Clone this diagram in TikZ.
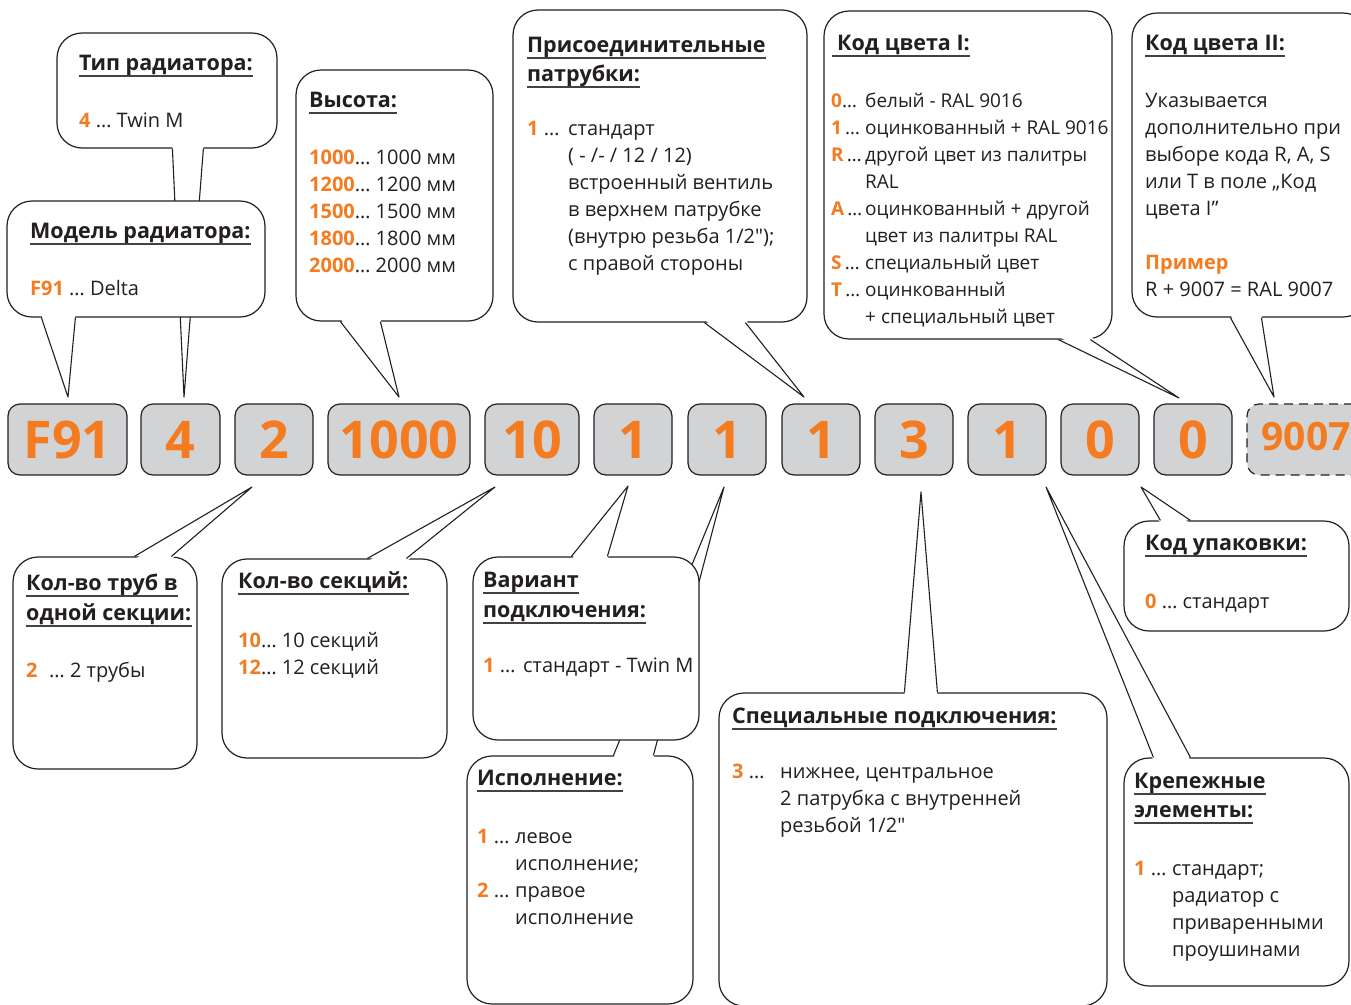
\documentclass[tikz,border=0pt]{standalone}
\usepackage{fontspec}
\setmainfont{Open Sans}[Ligatures=TeXOff]
\usetikzlibrary{calc}
\definecolor{orng}{HTML}{F47B20}
\definecolor{ink}{HTML}{231F20}
\definecolor{boxgray}{HTML}{D1D3D4}
\tikzset{
  bubble/.style={draw=ink, line width=1.2pt, fill=white, rounded corners=25pt, rectangle, inner sep=0pt},
  tailside/.style={draw=ink, line width=1.1pt, line join=round},
  codebox/.style={draw=ink, line width=1.2pt, fill=boxgray, rounded corners=12pt, rectangle, inner sep=0pt,
    minimum height=71pt, text=orng, font=\fontsize{52}{52}\selectfont\bfseries},
  ttl/.style={anchor=base west, inner sep=0pt, text=ink, font=\fontsize{21.5}{23}\selectfont\bfseries},
  body/.style={anchor=base west, inner sep=0pt, text=ink, font=\fontsize{20}{27}\selectfont},
  ul/.style={draw=ink!85, line width=1.2pt},
}
\newcommand\og[1]{{\bfseries\color{orng}#1}}
\newcommand\bub[5]{\node[bubble, minimum width={(#4)-(#2)}, minimum height={(#5)-(#3)}] (#1) at ({((#2)+(#4))/2},{((#3)+(#5))/2}) {};}
\newcommand\tailS[4]{%
  \fill[white] ([xshift=#2,yshift=3]#1.south west) -- (#4) -- ([xshift=#3,yshift=3]#1.south west) -- cycle;
  \draw[tailside] ([xshift=#2]#1.south west) -- (#4) -- ([xshift=#3]#1.south west);}
\newcommand\tailN[4]{%
  \fill[white] ([xshift=#2,yshift=-3]#1.north west) -- (#4) -- ([xshift=#3,yshift=-3]#1.north west) -- cycle;
  \draw[tailside] ([xshift=#2]#1.north west) -- (#4) -- ([xshift=#3]#1.north west);}
\newcommand\ttl[3]{\node[ttl] (#1) at (#2) {#3};
  \draw[ul] ([yshift=-6]#1.base west) -- ([yshift=-6]#1.base east);}
\newcommand\lab[2]{\makebox[#1][l]{#2}}
\begin{document}
\begin{tikzpicture}[x=1pt,y=-1pt]
\useasboundingbox (0,0) rectangle (1351,1004);
\clip (0,0) rectangle (1351,1004);

% ---------- code boxes ----------
\node[codebox, minimum width=119] (cF)  at (67.5,439.5)  {F91};
\node[codebox, minimum width=79]  (c4)  at (180.5,439.5) {4};
\node[codebox, minimum width=78]  (c2)  at (274,439.5)   {2};
\node[codebox, minimum width=142] (cH)  at (399,439.5)   {1000};
\node[codebox, minimum width=94]  (cS)  at (532,439.5)   {10};
\node[codebox, minimum width=78]  (cV)  at (633,439.5)   {1};
\node[codebox, minimum width=78]  (cI)  at (727,439.5)   {1};
\node[codebox, minimum width=78]  (cP)  at (821,439.5)   {1};
\node[codebox, minimum width=78]  (cSp) at (914,439.5)   {3};
\node[codebox, minimum width=78]  (cK)  at (1007,439.5)  {1};
\node[codebox, minimum width=78]  (cC1) at (1100,439.5)  {0};
\node[codebox, minimum width=78]  (cU)  at (1193,439.5)  {0};
\node[codebox, minimum width=118, dash pattern=on 9pt off 6pt, font=\fontsize{39}{39}\selectfont\bfseries] (cC2) at (1306,439.5) {\raisebox{6pt}{9007}};

% ---------- tail tips ----------
\coordinate (tT)  at (184,397);
\coordinate (tM)  at (68,397);
\coordinate (tH)  at (399,397);
\coordinate (tP)  at (804,397);
\coordinate (tC1) at (1179,398);
\coordinate (tC2) at (1274,397);
\coordinate (tR)  at (252,487);
\coordinate (tS)  at (495,487);
\coordinate (tV)  at (628,486);
\coordinate (tI)  at (724,487);
\coordinate (tSp) at (921,492);
\coordinate (tU)  at (1141,487);
\coordinate (tK)  at (1046,487);

% ---------- top bubbles ----------
\bub{bT}{57}{33}{277}{148}
\tailS{bT}{116}{147}{tT}
\bub{bM}{7}{201}{265}{317}
\tailS{bM}{35}{69}{tM}
\bub{bH}{296}{70}{493}{321}
\tailS{bH}{45}{85}{tH}
\bub{bP}{513}{10}{807}{322}
\tailS{bP}{192}{233}{tP}
\bub{bC1}{824}{11}{1112}{339}
\tailS{bC1}{235}{267}{tC1}
\bub{bC2}{1132}{13}{1368}{317}
\tailS{bC2}{99}{130}{tC2}

% ---------- bottom bubbles ----------
\bub{bR}{13}{557}{197}{769}
\tailN{bR}{122}{159}{tR}
\bub{bS}{222}{559}{447}{758}
\tailN{bS}{146}{185}{tS}
\bub{bI}{467}{756}{693}{1004}
\tailN{bI}{147}{187}{tI}
\bub{bV}{473}{557}{699}{740}
\tailN{bV}{99}{135}{tV}
\bub{bSp}{719}{693}{1107}{1006}
\tailN{bSp}{186}{219}{tSp}
\bub{bU}{1124}{521}{1349}{631}
\tailN{bU}{37}{67}{tU}
\bub{bK}{1124}{758}{1349}{986}
\tailN{bK}{30}{67}{tK}

% ---------- texts ----------
\ttl{hT}{79,70}{Тип радиатора:}
\node[body] (xT) at (79,127) {\og{4} … Twin M};

\ttl{hM}{30,238}{Модель радиатора:}
\node[body] (xM) at (30,295) {\og{F91} … Delta};

\ttl{hH}{309,107}{Высота:}
\node[body] (xH) at (309,164) {\begin{tabular}[t]{@{}l@{}}
\og{1000}… 1000 мм\\ \og{1200}… 1200 мм\\ \og{1500}… 1500 мм\\ \og{1800}… 1800 мм\\ \og{2000}… 2000 мм\end{tabular}};

\ttl{hP1}{527,52}{Присоединительные}
\ttl{hP2}{527,81}{патрубки:}
\node[body] (xP) at (527,135) {\begin{tabular}[t]{@{}l@{}l@{}}
\lab{41pt}{\og{1} …} & стандарт\\
 & ( - /- / 12 / 12)\\
 & встроенный вентиль\\
 & в верхнем патрубке\\
 & (внутрю резьба 1/2");\\
 & с правой стороны\end{tabular}};

\ttl{hC1}{832,50}{\hspace{5pt}Код цвета I:}
\node[body, font=\fontsize{19}{27}\selectfont] (xC1) at (831,107) {\begin{tabular}[t]{@{}l@{}l@{}}
\lab{30pt}{\og{0}…} & белый - RAL 9016\\
\lab{32pt}{\og{1}\,…} & оцинкованный + RAL 9016\\
\lab{34pt}{\og{R}\,…} & другой цвет из палитры\\
 & RAL\\
\lab{34pt}{\og{A}\,…} & оцинкованный + другой\\
 & цвет из палитры RAL\\
\lab{34pt}{\og{S}\,…} & специальный цвет\\
\lab{34pt}{\og{T}\,…} & оцинкованный\\
 & + специальный цвет\end{tabular}};

\ttl{hC2}{1145,50}{Код цвета II:}
\node[body] (xC2) at (1145,107) {\begin{tabular}[t]{@{}l@{}}
Указывается\\ дополнительно при\\ выборе кода R, A, S\\ или T в поле „Код\\ цвета I”\\ \\
\og{Пример}\\ R + 9007 = RAL 9007\end{tabular}};

\ttl{hR1}{26,590}{Кол-во труб в}
\ttl{hR2}{26,620}{одной секции:}
\node[body] (xR) at (26,677) {\lab{23pt}{\og{2}}… 2 трубы};

\ttl{hS}{238,588}{Кол-во секций:}
\node[body] (xS) at (238,647) {\begin{tabular}[t]{@{}l@{}}
\og{10}… 10 секций\\ \og{12}… 12 секций\end{tabular}};

\ttl{hV1}{483,587}{Вариант}
\ttl{hV2}{483,617}{подключения:}
\node[body] (xV) at (483,672) {\lab{40pt}{\og{1} …}стандарт - Twin M};

\ttl{hI}{477,785}{Исполнение:}
\node[body] (xI) at (477,843) {\begin{tabular}[t]{@{}l@{}l@{}}
\lab{38pt}{\og{1} …} & левое\\
 & исполнение;\\
\lab{38pt}{\og{2} …} & правое\\
 & исполнение\end{tabular}};

\ttl{hSp}{732,723}{Специальные подключения:}
\node[body] (xSp) at (732,778) {\begin{tabular}[t]{@{}l@{}l@{}}
\lab{48pt}{\og{3} …} & нижнее, центральное\\
 & 2 патрубка с внутренней\\
 & резьбой 1/2"\end{tabular}};

\ttl{hU}{1145,550}{Код упаковки:}
\node[body] (xU) at (1145,608) {\og{0} … стандарт};

\ttl{hK1}{1134,788}{Крепежные}
\ttl{hK2}{1134,817}{элементы:}
\node[body] (xK) at (1134,875) {\begin{tabular}[t]{@{}l@{}l@{}}
\lab{38pt}{\og{1} …} & стандарт;\\
 & радиатор с\\
 & приваренными\\
 & проушинами\end{tabular}};
\end{tikzpicture}
\end{document}
